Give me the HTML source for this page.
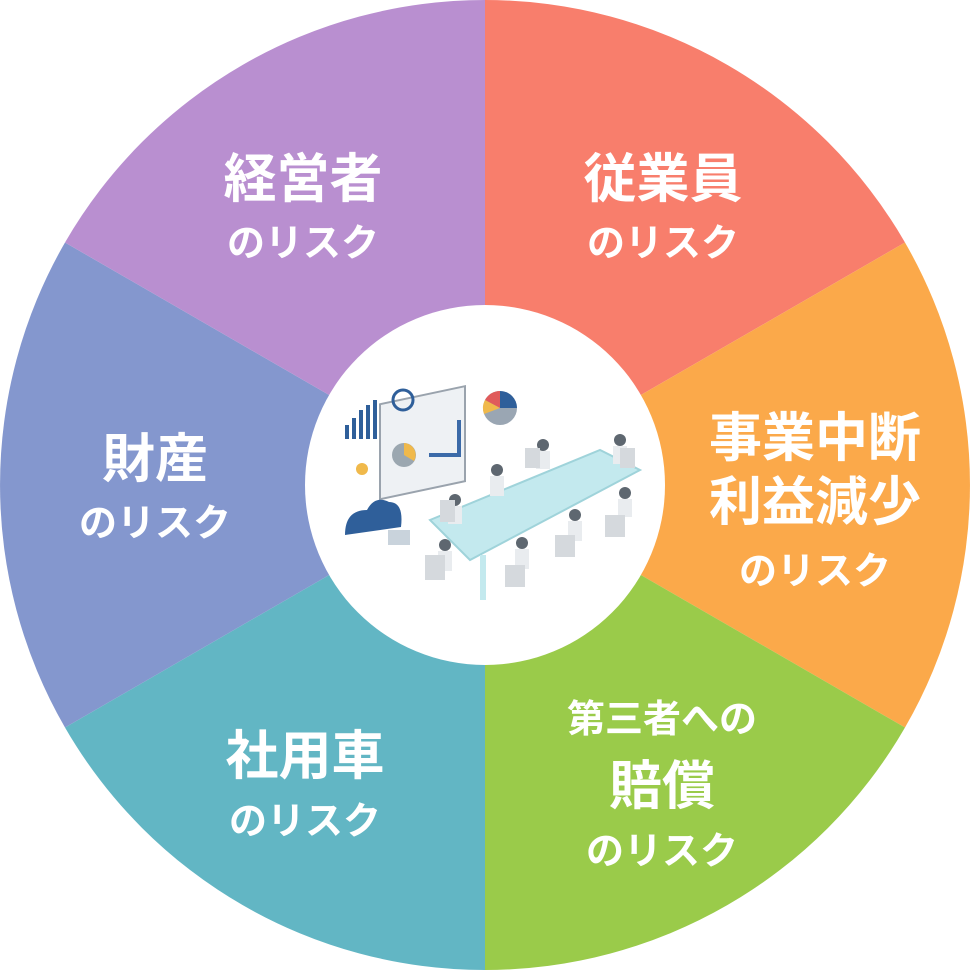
<!DOCTYPE html>
<html><head><meta charset="utf-8">
<style>
html,body{margin:0;padding:0;background:#fff;}
svg{display:block}
text{font-family:"Liberation Sans","Noto Sans CJK JP",sans-serif;font-weight:700;fill:#fff;text-anchor:middle}
</style></head>
<body>
<svg width="970" height="970" viewBox="0 0 970 970" xmlns="http://www.w3.org/2000/svg">
<path d="M485 485 L485 0 A485 485 0 0 1 905 242.5 Z" fill="#F87E6C"/>
<path d="M485 485 L905 242.5 A485 485 0 0 1 905 727.5 Z" fill="#FBA94A"/>
<path d="M485 485 L905 727.5 A485 485 0 0 1 485 970 Z" fill="#9ACB4A"/>
<path d="M485 485 L485 970 A485 485 0 0 1 65 727.5 Z" fill="#62B6C4"/>
<path d="M485 485 L65 727.5 A485 485 0 0 1 65 242.5 Z" fill="#8497CE"/>
<path d="M485 485 L65 242.5 A485 485 0 0 1 485 0 Z" fill="#B98FD0"/>
<circle cx="485" cy="485" r="180" fill="#fff"/>

<g>
<rect x="380" y="400" width="85" height="95" fill="#eef1f4" stroke="#9aa3ad" stroke-width="2" transform="skewY(-12) translate(0,85)"/>
<circle cx="404" cy="455" r="12" fill="#9ba7b0"/>
<path d="M404 455 L404 443 A12 12 0 0 1 414 461 Z" fill="#f0b94b"/>
<path d="M429 455 h30 v-35" stroke="#3b6aa8" stroke-width="4" fill="none"/>
<circle cx="500" cy="408" r="17" fill="#9aa6b3"/>
<path d="M500 408 L500 391 A17 17 0 0 1 517 408 Z" fill="#2f5f9a"/>
<path d="M500 408 L500 391 A17 17 0 0 0 485 400 Z" fill="#e05b5b"/>
<path d="M500 408 L485 400 A17 17 0 0 0 484 414 Z" fill="#f0b94b"/>
<circle cx="403" cy="400" r="10" fill="none" stroke="#2f5f9a" stroke-width="3"/>
<g fill="#2f5f9a"><rect x="345" y="425" width="4" height="14"/><rect x="352" y="418" width="4" height="21"/><rect x="359" y="410" width="4" height="29"/><rect x="366" y="405" width="4" height="34"/><rect x="373" y="400" width="4" height="39"/></g>
<circle cx="362" cy="469" r="6" fill="#f0b94b"/>
<path d="M345 535 q0 -25 22 -25 q8 -15 22 -8 q15 0 12 25 z" fill="#2f5f9a"/>
<rect x="388" y="530" width="22" height="15" fill="#c9d3dc"/>
<polygon points="430,520 600,450 640,470 470,560" fill="#c3e9ee" stroke="#9fd3da" stroke-width="2"/>
<rect x="480" y="555" width="6" height="45" fill="#c3e9ee"/>
<g fill="#5e6770">
<circle cx="455" cy="500" r="6"/><rect x="448" y="506" width="14" height="18" fill="#e9ecef"/>
<circle cx="497" cy="470" r="6"/><rect x="490" y="476" width="14" height="20" fill="#e9ecef"/>
<circle cx="543" cy="445" r="6"/><rect x="536" y="451" width="14" height="18" fill="#e9ecef"/>
<circle cx="620" cy="440" r="6"/><rect x="613" y="446" width="14" height="18" fill="#e9ecef"/>
<circle cx="625" cy="493" r="6"/><rect x="618" y="499" width="14" height="18" fill="#e9ecef"/>
<circle cx="575" cy="515" r="6"/><rect x="568" y="521" width="14" height="20" fill="#e9ecef"/>
<circle cx="522" cy="543" r="6"/><rect x="515" y="549" width="14" height="20" fill="#e9ecef"/>
<circle cx="445" cy="545" r="6"/><rect x="438" y="551" width="14" height="20" fill="#e9ecef"/>
</g>
<g fill="#d5d9dd">
<rect x="425" y="555" width="20" height="25"/><rect x="505" y="565" width="20" height="22"/><rect x="555" y="535" width="20" height="22"/><rect x="605" y="515" width="20" height="22"/><rect x="440" y="500" width="15" height="22"/><rect x="525" y="448" width="15" height="20"/><rect x="620" y="448" width="15" height="20"/>
</g>
</g>

<text x="303" y="197" font-size="53">経営者</text>
<text x="303" y="256" font-size="38">のリスク</text>
<text x="663" y="197" font-size="53">従業員</text>
<text x="663" y="256" font-size="38">のリスク</text>
<text x="155" y="477" font-size="53">財産</text>
<text x="155" y="536" font-size="38">のリスク</text>
<text x="815" y="456" font-size="53">事業中断</text>
<text x="815" y="520" font-size="53">利益減少</text>
<text x="815" y="584" font-size="38">のリスク</text>
<text x="662" y="732" font-size="38">第三者への</text>
<text x="662" y="804" font-size="53">賠償</text>
<text x="662" y="864" font-size="38">のリスク</text>
<text x="305" y="774" font-size="53">社用車</text>
<text x="305" y="834" font-size="38">のリスク</text>
</svg>
</body></html>
